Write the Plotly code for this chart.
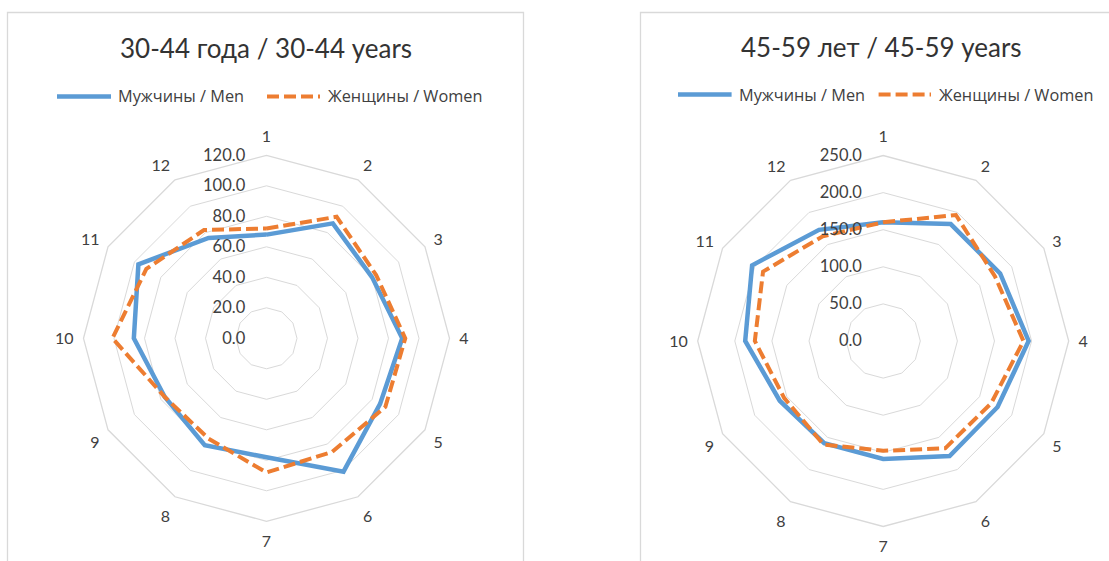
import plotly.graph_objects as go

W, H = 1109, 561

# Radar categories and series values
categories = [str(i) for i in range(1, 13)]
men_30_44 = [68, 87, 80, 89, 86, 101, 78, 81, 77, 87, 97, 76]
women_30_44 = [72, 92, 83, 91, 90, 86, 88, 76, 77, 101, 91, 82]
men_45_59 = [160, 182, 182, 196, 178, 179, 159, 159, 161, 186, 204, 173]
women_45_59 = [160, 196, 174, 189, 168, 167, 148, 161, 154, 173, 187, 163]

titles = ["30-44 года / 30-44 years", "45-59 лет / 45-59 years"]
series_names = ["Мужчины / Men", "Женщины / Women"]
radial_max = [120, 250]
radial_step = [20, 50]

FONT = "Lato"
LEGEND_FONT = "Open Sans"
TEXT = "#404040"
TITLE = "#333333"
GRID = "#d9d9d9"
BLUE = "#5b9bd5"
ORANGE = "#ed7d31"
DASH = "12px,5px"


def px_x(x):
    return x / W


def px_y(y):
    return 1 - y / H


def closed(values):
    return list(values) + [values[0]]


fig = go.Figure()

panels = [
    dict(polar="polar", men=men_30_44, women=women_30_44,
         cx=266.5, cy=338.3, R=183.0),
    dict(polar="polar2", men=men_45_59, women=women_45_59,
         cx=883.2, cy=341.0, R=185.5),
]

for p in panels:
    fig.add_trace(go.Scatterpolar(
        r=closed(p["men"]), theta=closed(categories), subplot=p["polar"],
        mode="lines", name=series_names[0], showlegend=False,
        line=dict(color=BLUE, width=4.5),
    ))
    fig.add_trace(go.Scatterpolar(
        r=closed(p["women"]), theta=closed(categories), subplot=p["polar"],
        mode="lines", name=series_names[1], showlegend=False,
        line=dict(color=ORANGE, width=4, dash=DASH),
    ))


def polar_layout(p, rmax, step):
    cx, cy, R = p["cx"], p["cy"], p["R"]
    return dict(
        domain=dict(x=[px_x(cx - R), px_x(cx + R)],
                    y=[px_y(cy + R), px_y(cy - R)]),
        bgcolor="rgba(0,0,0,0)",
        gridshape="linear",
        radialaxis=dict(
            range=[0, rmax], tick0=0, dtick=step, tickformat=".1f",
            angle=90, side="counterclockwise", tickangle=90,
            showline=False, gridcolor=GRID, gridwidth=1.3,
            ticks="outside", ticklen=15, tickcolor="rgba(0,0,0,0)",
            tickfont=dict(family=FONT, size=16.5, color=TEXT),
        ),
        angularaxis=dict(
            type="category", categoryarray=categories,
            rotation=90, direction="clockwise",
            showgrid=False, showline=True, linecolor=GRID, linewidth=1.3,
            ticks="outside", ticklen=6, tickcolor="rgba(0,0,0,0)",
            tickfont=dict(family=FONT, size=16, color=TEXT),
        ),
    )


shapes = []
annotations = []

# Chart area borders
shapes.append(dict(type="rect", xref="paper", yref="paper",
                   x0=px_x(7.5), x1=px_x(523.5), y0=px_y(620), y1=px_y(12.5),
                   line=dict(color=GRID, width=1.3), fillcolor="rgba(0,0,0,0)",
                   layer="below"))
shapes.append(dict(type="rect", xref="paper", yref="paper",
                   x0=px_x(640.5), x1=px_x(1160), y0=px_y(620), y1=px_y(12.5),
                   line=dict(color=GRID, width=1.3), fillcolor="rgba(0,0,0,0)",
                   layer="below"))

# Titles
title_pos = [(265.5, 48), (881.5, 47)]
for t, (x, y) in zip(titles, title_pos):
    annotations.append(dict(text=t, x=px_x(x), y=px_y(y), xref="paper", yref="paper",
                            showarrow=False, xanchor="center", yanchor="middle",
                            font=dict(family=FONT, size=26, color=TITLE)))

# Legends drawn as line samples with labels
legend_rows = [
    dict(y=96.4, items=[(57, 111, 116, BLUE, "solid", series_names[0]),
                        (267, 320, 326, ORANGE, DASH, series_names[1])]),
    dict(y=94.5, items=[(678, 731.6, 737, BLUE, "solid", series_names[0]),
                        (878.6, 931, 937, ORANGE, DASH, series_names[1])]),
]
for row in legend_rows:
    for x0, x1, xt, color, dash, label in row["items"]:
        shapes.append(dict(type="line", xref="paper", yref="paper",
                           x0=px_x(x0), x1=px_x(x1), y0=px_y(row["y"]), y1=px_y(row["y"]),
                           line=dict(color=color, width=4.5 if dash == "solid" else 4, dash=dash)))
        annotations.append(dict(text=label, x=px_x(xt), y=px_y(row["y"]),
                                xref="paper", yref="paper", showarrow=False,
                                xanchor="left", yanchor="middle",
                                font=dict(family=LEGEND_FONT, size=16.3, color=TEXT)))

fig.update_layout(
    width=W, height=H,
    margin=dict(l=0, r=0, t=0, b=0),
    paper_bgcolor="white",
    plot_bgcolor="white",
    showlegend=False,
    polar=polar_layout(panels[0], radial_max[0], radial_step[0]),
    polar2=polar_layout(panels[1], radial_max[1], radial_step[1]),
    shapes=shapes,
    annotations=annotations,
)

fig.write_html("out.html")
